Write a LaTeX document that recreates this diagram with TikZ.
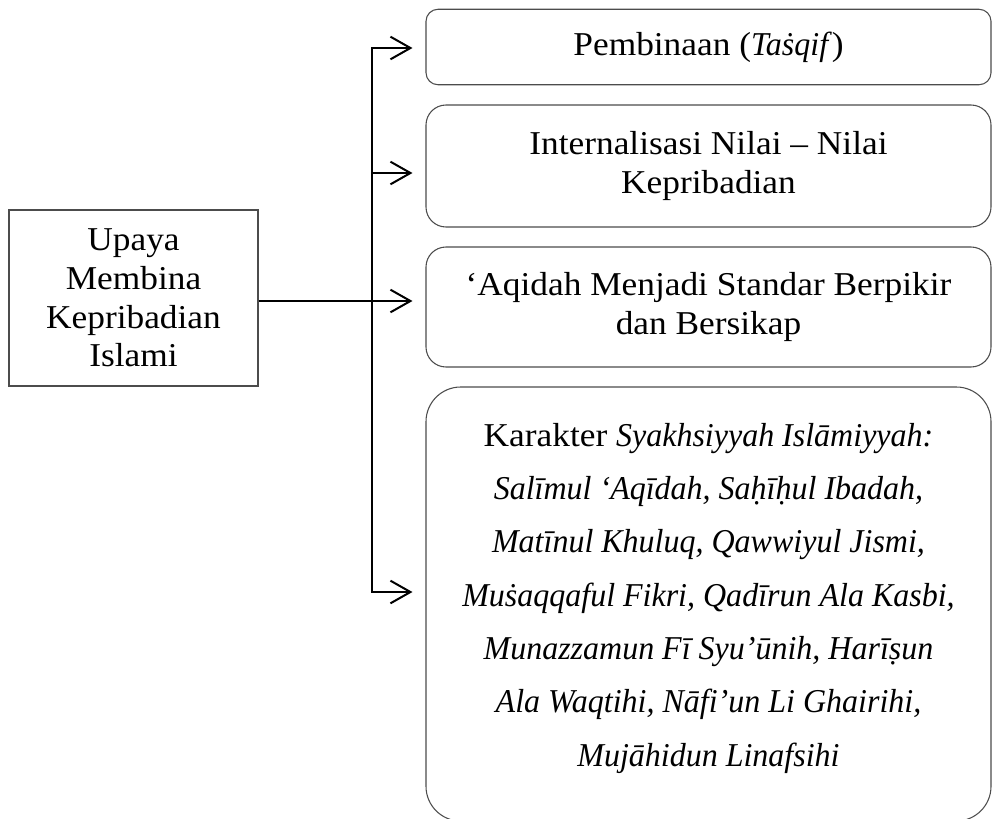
\documentclass[tikz,border=0pt]{standalone}
\usepackage{fontspec}
\setmainfont{Liberation Serif}[
  UprightFeatures={FakeStretch=1.06},
  ItalicFeatures={FakeStretch=0.96}]
\usetikzlibrary{arrows.meta}
\begin{document}
\begin{tikzpicture}[x=0.75pt,y=-0.75pt,
  rbox/.style={draw=black!70, line width=0.8pt, rounded corners=#1, inner sep=0pt,
    minimum width=423.75pt, align=center, font=\fontsize{25}{29}\selectfont},
  rbox/.default=15pt,
  srcbox/.style={draw=black!70, line width=0.8pt, inner sep=0pt, align=center,
    minimum width=186.75pt, minimum height=132pt, font=\fontsize{25}{29}\selectfont},
  txt/.style={align=center, inner sep=0pt, font=\fontsize{25}{40}\selectfont},
  conn/.style={line width=1.5pt, line join=miter},
  arr/.style={conn, -{Straight Barb[length=15pt,width=17pt]}, shorten >=9.75pt}]
\useasboundingbox (0,0) rectangle (992,818);

\node[srcbox] (src) at (133.5,298) {Upaya\\Membina\\Kepribadian\\Islami};

\node[rbox=9pt, minimum height=56.6pt] (b1) at (708.5,47) {Pembinaan (\textit{Taṡqif})};
\node[rbox, minimum height=91.5pt] (b2) at (708.5,166) {Internalisasi Nilai – Nilai\\Kepribadian};
\node[rbox, minimum height=90pt] (b3) at (708.5,307) {‘Aqidah Menjadi Standar Berpikir\\dan Bersikap};
\node[rbox=26pt, minimum height=325.5pt] (b4) at (708.5,604) {};
\node[txt] (t4) at (708.5,598) {Karakter \textit{Syakhsiyyah Islāmiyyah:}\\
\textit{Salīmul ‘Aqīdah, Saḥīḥul Ibadah,}\\
\textit{Matīnul Khuluq, Qawwiyul Jismi,}\\
\textit{Muṡaqqaful Fikri, Qadīrun Ala Kasbi,}\\
\textit{Munazzamun Fī Syu’ūnih, Harīṣun}\\
\textit{Ala Waqtihi, Nāfi’un Li Ghairihi,}\\
\textit{Mujāhidun Linafsihi}};

\coordinate (j1) at (372,48);
\coordinate (j2) at (372,173);
\coordinate (j3) at (372,301);
\coordinate (j4) at (372,592);

\draw[conn, {Straight Barb[length=15pt,width=17pt]}-{Straight Barb[length=15pt,width=17pt]},
  shorten <=9.75pt, shorten >=9.75pt]
  (j1 -| b1.west) -- (j1) -- (j4) -- (j4 -| b4.west);
\draw[arr] (j2) -- (j2 -| b2.west);
\draw[arr] (src.east |- j3) -- (j3 -| b3.west);
\end{tikzpicture}
\end{document}
